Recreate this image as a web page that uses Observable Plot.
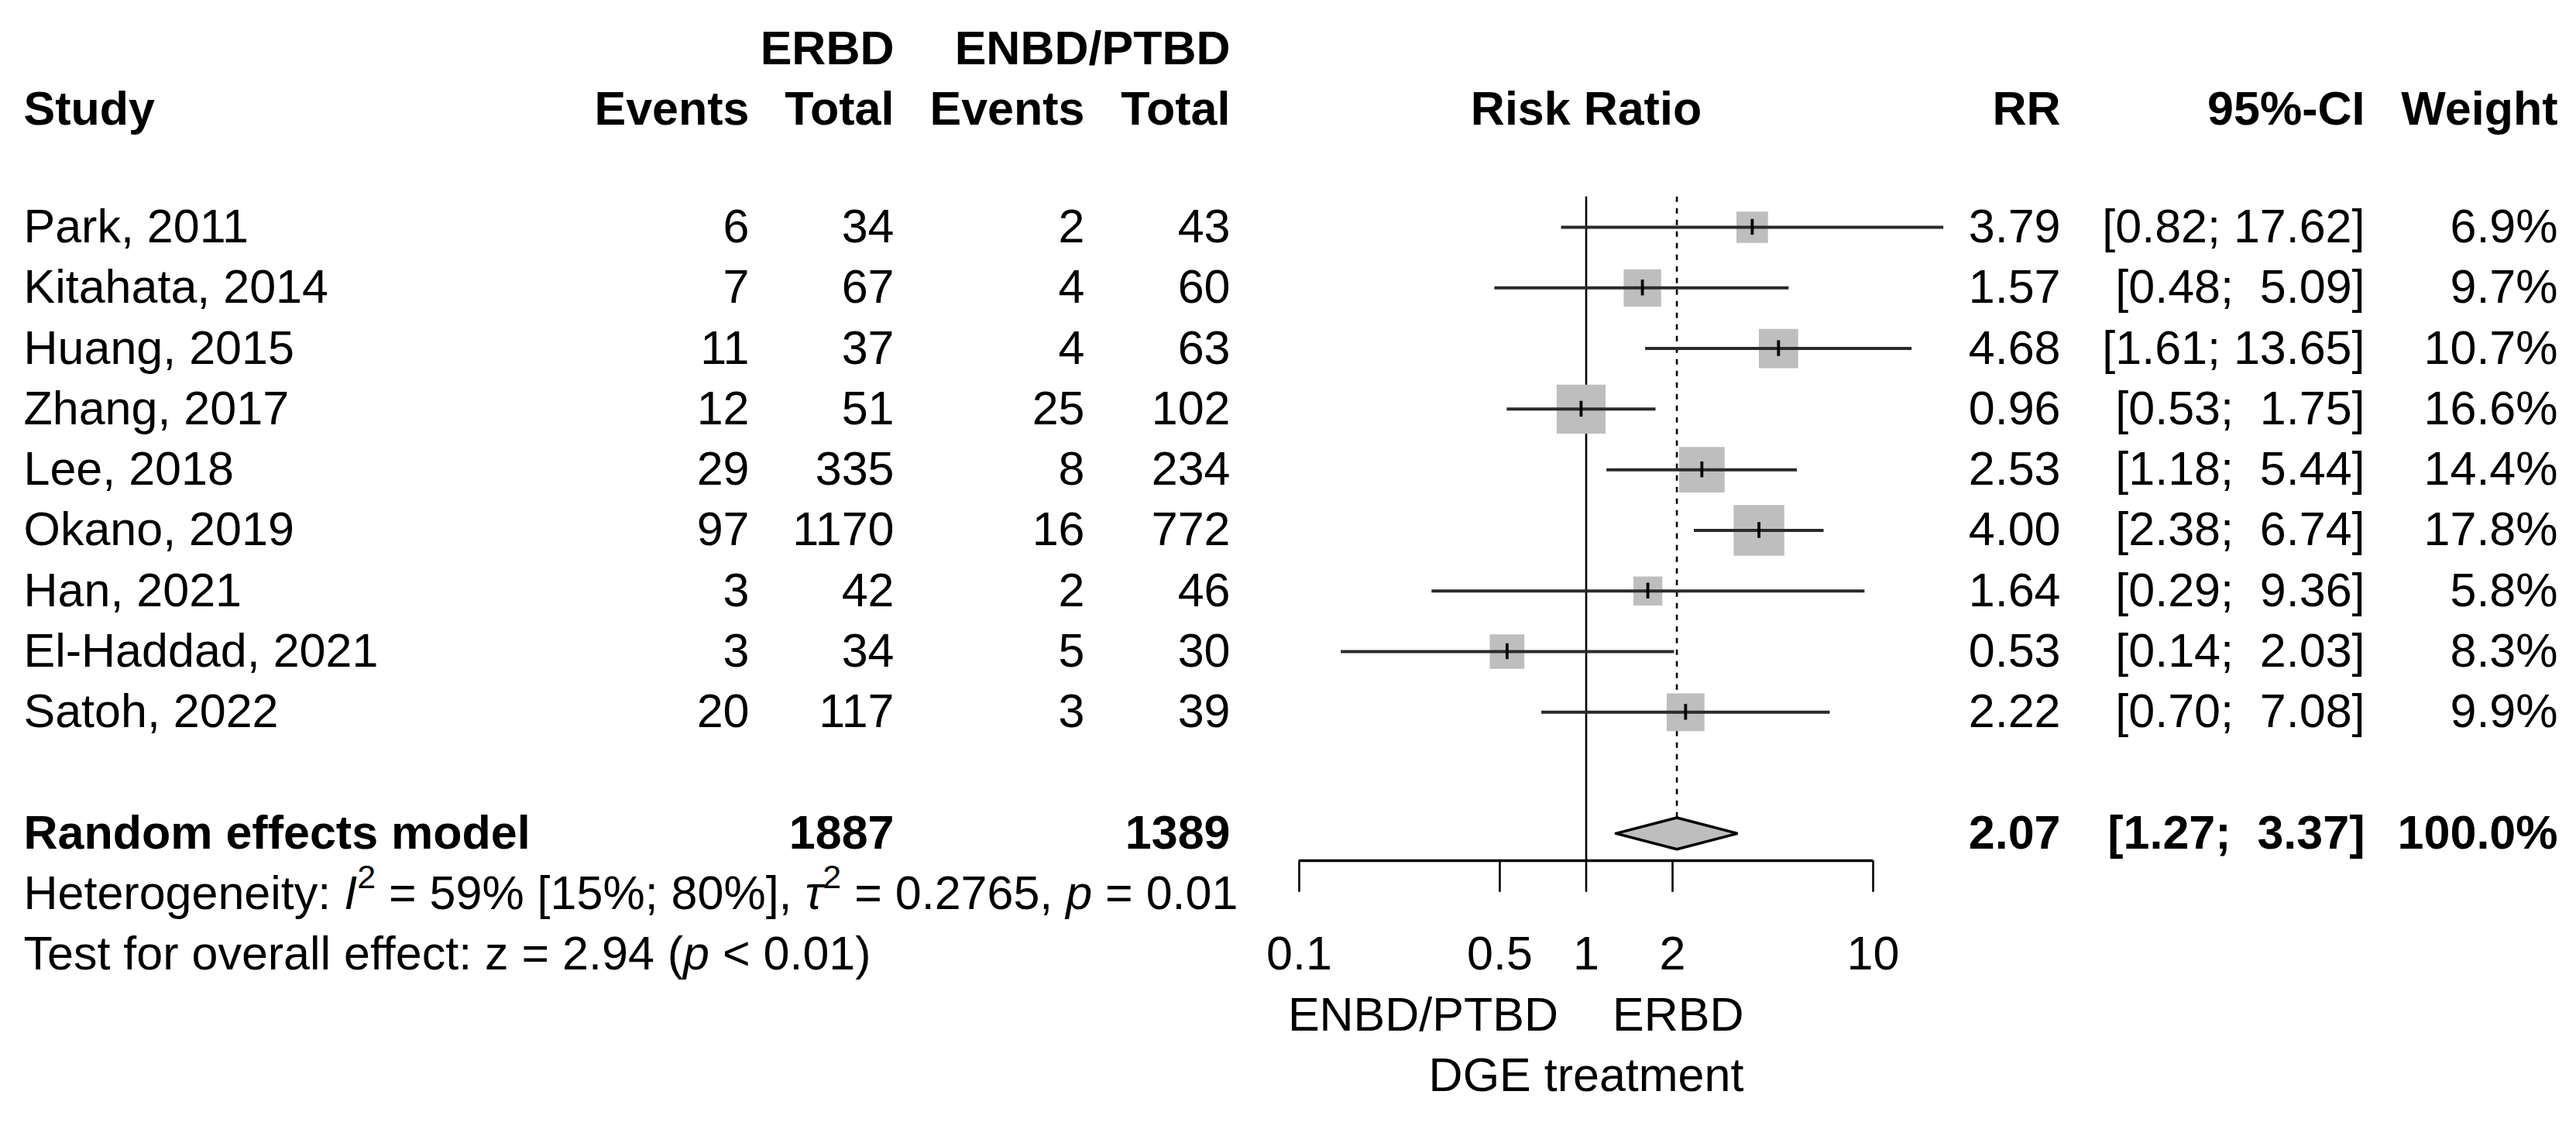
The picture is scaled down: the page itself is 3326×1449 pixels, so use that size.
<!DOCTYPE html>
<html>
<head>
<meta charset="utf-8">
<script src="https://cdn.jsdelivr.net/npm/d3@7"></script>
<script src="https://cdn.jsdelivr.net/npm/@observablehq/plot@0.6"></script>
<style>
  html, body { margin: 0; padding: 0; background: #ffffff; }
  #chart svg { display: block; }
</style>
</head>
<body>
<div id="chart"></div>
<script>
// ---------------- data ----------------
const studies = ["Park, 2011", "Kitahata, 2014", "Huang, 2015", "Zhang, 2017", "Lee, 2018",
                 "Okano, 2019", "Han, 2021", "El-Haddad, 2021", "Satoh, 2022"];
const erbdEvents = [6, 7, 11, 12, 29, 97, 3, 3, 20];
const erbdTotal  = [34, 67, 37, 51, 335, 1170, 42, 34, 117];
const enbdEvents = [2, 4, 4, 25, 8, 16, 2, 5, 3];
const enbdTotal  = [43, 60, 63, 102, 234, 772, 46, 30, 39];
const rr      = [3.79, 1.57, 4.68, 0.96, 2.53, 4.00, 1.64, 0.53, 2.22];
const ciLower = [0.82, 0.48, 1.61, 0.53, 1.18, 2.38, 0.29, 0.14, 0.70];
const ciUpper = [17.62, 5.09, 13.65, 1.75, 5.44, 6.74, 9.36, 2.03, 7.08];
const weights = [6.9, 9.7, 10.7, 16.6, 14.4, 17.8, 5.8, 8.3, 9.9];

const pooledLabel = "Random effects model";
const pooledTotals = [1887, 1389];
const pooledRR = 2.07;
const pooledCI = [1.27, 3.37];
const pooledWeight = 100.0;

const groupHeaders = ["ERBD", "ENBD/PTBD"];
const colHeaders = ["Study", "Events", "Total", "Events", "Total"];
const rightHeaders = ["RR", "95%-CI", "Weight"];
const plotHeader = "Risk Ratio";
const xTicks = [0.1, 0.5, 1, 2, 10];
const xTickLabels = ["0.1", "0.5", "1", "2", "10"];
const labelLeft = "ENBD/PTBD";
const labelRight = "ERBD";
const xLabel = "DGE treatment";
const hetText = "Heterogeneity: I2 = 59% [15%; 80%], \u03c42 = 0.2765, p = 0.01";
const testText = "Test for overall effect: z = 2.94 (p < 0.01)";
const nullEffect = 1;

// ---------------- layout (pixels / row units) ----------------
const W = 3326, H = 1449;
const FONT = "'Liberation Sans', Arial, Helvetica, sans-serif";
const FS = 61;
const colX = { study: 30, ev1: 967, tot1: 1154, ev2: 1400, tot2: 1588, rr: 2660, ci: 3053, w: 3302 };
const rowGroup = -1, rowHeader = 0, rowFirst = 2, rowPooled = 12, rowHet = 13, rowTest = 14;
const rowTop = 1.5, rowAxis = 12.45, rowTickEnd = 12.97, rowTickLab = 14, rowLab = 15, rowXlab = 16;

// ---------------- derived table ----------------
const nb = "\u00a0";
const fmtCI = (lo, hi) => "[" + lo.toFixed(2).padStart(4, nb) + "; " + hi.toFixed(2).padStart(5, nb) + "]";
const rows = studies.map((s, i) => ({
  study: s, row: rowFirst + i,
  ev1: String(erbdEvents[i]), tot1: String(erbdTotal[i]),
  ev2: String(enbdEvents[i]), tot2: String(enbdTotal[i]),
  rr: rr[i], lower: ciLower[i], upper: ciUpper[i], weight: weights[i],
  rrText: rr[i].toFixed(2), ciText: fmtCI(ciLower[i], ciUpper[i]), wText: weights[i].toFixed(1) + "%"
}));
const pooledRow = [{
  study: pooledLabel, row: rowPooled, tot1: String(pooledTotals[0]), tot2: String(pooledTotals[1]),
  rrText: pooledRR.toFixed(2), ciText: fmtCI(pooledCI[0], pooledCI[1]), wText: pooledWeight.toFixed(1) + "%"
}];
const diamondHalf = 0.26;
const diamond = [
  { x: pooledCI[0], y: rowPooled },
  { x: pooledRR, y: rowPooled - diamondHalf },
  { x: pooledCI[1], y: rowPooled },
  { x: pooledRR, y: rowPooled + diamondHalf },
  { x: pooledCI[0], y: rowPooled }
];

const T = { fontFamily: FONT, fontSize: FS, fill: "black", frameAnchor: "left" };
const colText = (data, key, field, anchor, weight) =>
  Plot.text(data, { ...T, y: "row", text: field, dx: colX[key], textAnchor: anchor, fontWeight: weight });

const marks = [
  // reference lines
  Plot.ruleX([nullEffect], { y1: rowTop, y2: rowAxis, stroke: "black", strokeWidth: 2.6 }),
  Plot.ruleX([pooledRR], { y1: rowTop, y2: rowPooled, stroke: "black", strokeWidth: 2.6, strokeDasharray: "7,8" }),
  // squares
  Plot.dot(rows, { x: "rr", y: "row", r: "weight", symbol: "square", fill: "#bebebe", stroke: "none" }),
  // CIs
  Plot.ruleY(rows, { y: "row", x1: "lower", x2: "upper", stroke: "#2a2a2a", strokeWidth: 4 }),
  // point estimates
  Plot.ruleX(rows, { x: "rr", y1: d => d.row - 0.13, y2: d => d.row + 0.13, stroke: "black", strokeWidth: 3.8 }),
  // diamond
  Plot.line(diamond, { x: "x", y: "y", fill: "#bebebe", stroke: "black", strokeWidth: 3.5, strokeLinejoin: "miter" }),
  // axis
  Plot.ruleY([rowAxis], { x1: d3.min(xTicks), x2: d3.max(xTicks), stroke: "black", strokeWidth: 3.5 }),
  Plot.ruleX(xTicks, { y1: rowAxis, y2: rowTickEnd, stroke: "black", strokeWidth: 2.6 }),
  Plot.text(xTicks, { fontFamily: FONT, fontSize: FS, fill: "black", x: d => d, y: rowTickLab, text: (d, i) => xTickLabels[i] }),
  Plot.text([labelLeft], { fontFamily: FONT, fontSize: FS, fill: "black", x: nullEffect, y: rowLab, text: d => d, textAnchor: "end", dx: -36 }),
  Plot.text([labelRight], { fontFamily: FONT, fontSize: FS, fill: "black", x: nullEffect, y: rowLab, text: d => d, textAnchor: "start", dx: 34 }),
  Plot.text([xLabel], { fontFamily: FONT, fontSize: FS, fill: "black", x: nullEffect, y: rowXlab, text: d => d, textAnchor: "middle" }),
  // headers
  Plot.text([groupHeaders[0]], { ...T, y: rowGroup, dy: 5, text: d => d, dx: colX.tot1, textAnchor: "end", fontWeight: "bold" }),
  Plot.text([groupHeaders[1]], { ...T, y: rowGroup, dy: 5, text: d => d, dx: colX.tot2, textAnchor: "end", fontWeight: "bold" }),
  Plot.text([colHeaders[0]], { ...T, y: rowHeader, dy: 5, text: d => d, dx: colX.study, textAnchor: "start", fontWeight: "bold" }),
  Plot.text([colHeaders[1]], { ...T, y: rowHeader, dy: 5, text: d => d, dx: colX.ev1, textAnchor: "end", fontWeight: "bold" }),
  Plot.text([colHeaders[2]], { ...T, y: rowHeader, dy: 5, text: d => d, dx: colX.tot1, textAnchor: "end", fontWeight: "bold" }),
  Plot.text([colHeaders[3]], { ...T, y: rowHeader, dy: 5, text: d => d, dx: colX.ev2, textAnchor: "end", fontWeight: "bold" }),
  Plot.text([colHeaders[4]], { ...T, y: rowHeader, dy: 5, text: d => d, dx: colX.tot2, textAnchor: "end", fontWeight: "bold" }),
  Plot.text([plotHeader], { fontFamily: FONT, fontSize: FS, fill: "black", x: nullEffect, y: rowHeader, dy: 5, text: d => d, textAnchor: "middle", fontWeight: "bold" }),
  Plot.text([rightHeaders[0]], { ...T, y: rowHeader, dy: 5, text: d => d, dx: colX.rr, textAnchor: "end", fontWeight: "bold" }),
  Plot.text([rightHeaders[1]], { ...T, y: rowHeader, dy: 5, text: d => d, dx: colX.ci, textAnchor: "end", fontWeight: "bold" }),
  Plot.text([rightHeaders[2]], { ...T, y: rowHeader, dy: 5, text: d => d, dx: colX.w, textAnchor: "end", fontWeight: "bold" }),
  // study rows
  colText(rows, "study", "study", "start"),
  colText(rows, "ev1", "ev1", "end"),
  colText(rows, "tot1", "tot1", "end"),
  colText(rows, "ev2", "ev2", "end"),
  colText(rows, "tot2", "tot2", "end"),
  colText(rows, "rr", "rrText", "end"),
  colText(rows, "ci", "ciText", "end"),
  colText(rows, "w", "wText", "end"),
  // pooled row
  colText(pooledRow, "study", "study", "start", "bold"),
  colText(pooledRow, "tot1", "tot1", "end", "bold"),
  colText(pooledRow, "tot2", "tot2", "end", "bold"),
  colText(pooledRow, "rr", "rrText", "end", "bold"),
  colText(pooledRow, "ci", "ciText", "end", "bold"),
  colText(pooledRow, "w", "wText", "end", "bold"),
  // heterogeneity / test
  Plot.text([hetText], { ...T, y: rowHet, text: d => d, dx: colX.study, textAnchor: "start" }),
  Plot.text([testText], { ...T, y: rowTest, text: d => d, dx: colX.study, textAnchor: "start" })
];

const chart = Plot.plot({
  width: W, height: H,
  marginLeft: 0, marginRight: 0, marginTop: 0, marginBottom: 0,
  style: { background: "white", fontFamily: FONT },
  x: { type: "log", domain: [0.1, 10], range: [1677, 2418], axis: null },
  y: { type: "linear", domain: [rowFirst, rowXlab], range: [293, 1389], axis: null },
  r: { type: "sqrt", domain: [0, d3.max(weights)], range: [0, 8.75 * Math.sqrt(d3.max(weights))] },
  marks
});
document.getElementById("chart").appendChild(chart);

// rich text (italics, superscripts) for the statistics lines
const SUP = Math.round(FS * 0.7), SHIFT = Math.round(FS * 0.45);
function richify(plain, parts) {
  d3.select(chart).selectAll("text").filter(function () { return this.textContent === plain; })
    .each(function () {
      const t = d3.select(this);
      t.text(null);
      let pendingDy = 0;
      for (const p of parts) {
        const s = t.append("tspan").text(p.t);
        if (p.i) s.attr("font-style", "italic");
        if (p.sup) { s.attr("font-size", SUP).attr("dy", -SHIFT); pendingDy = SHIFT; }
        else if (pendingDy) { s.attr("dy", pendingDy); pendingDy = 0; }
      }
    });
}
richify(hetText, [
  { t: "Heterogeneity: " }, { t: "I", i: true }, { t: "2", sup: true },
  { t: " = 59% [15%; 80%], " }, { t: "\u03c4", i: true }, { t: "2", sup: true },
  { t: " = 0.2765, " }, { t: "p", i: true }, { t: " = 0.01" }
]);
richify(testText, [
  { t: "Test for overall effect: z = 2.94 (" }, { t: "p", i: true }, { t: " < 0.01)" }
]);
</script>
</body>
</html>
